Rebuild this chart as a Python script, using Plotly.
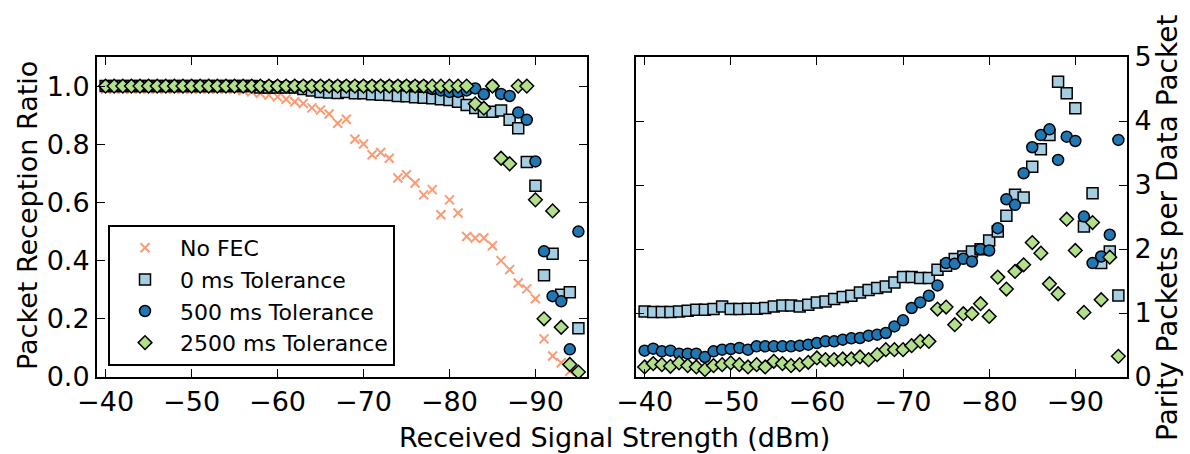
import plotly.graph_objects as go

# ---------------- data ----------------
rssi = [-40, -41, -42, -43, -44, -45, -46, -47, -48, -49,
        -50, -51, -52, -53, -54, -55, -56, -57, -58, -59,
        -60, -61, -62, -63, -64, -65, -66, -67, -68, -69,
        -70, -71, -72, -73, -74, -75, -76, -77, -78, -79,
        -80, -81, -82, -83, -84, -85, -86, -87, -88, -89,
        -90, -91, -92, -93, -94, -95]

# Left panel: packet reception ratio
prr_no_fec = [0.99, 0.99, 0.99, 0.99, 0.99, 0.99, 0.99, 0.99, 0.99, 0.99,
              0.99, 0.99, 0.99, 0.99, 0.99, 0.99, 0.985, 0.98, 0.975, 0.969,
              0.963, 0.955, 0.946, 0.94, 0.925, 0.918, 0.904, 0.872, 0.886, 0.817,
              0.801, 0.764, 0.772, 0.752, 0.684, 0.695, 0.667, 0.626, 0.644, 0.558,
              0.609, 0.564, 0.483, 0.478, 0.478, 0.451, 0.400, 0.369, 0.323, 0.303,
              0.269, 0.131, 0.072, 0.049, 0.02, 0.005]
prr_0ms = [1.0, 1.0, 1.0, 1.0, 1.0, 1.0, 1.0, 1.0, 1.0, 1.0,
           1.0, 1.0, 1.0, 1.0, 1.0, 1.0, 1.0, 1.0, 0.995, 0.995,
           0.995, 0.995, 0.995, 0.99, 0.985, 0.98, 0.978, 0.976, 0.98, 0.975,
           0.975, 0.972, 0.97, 0.969, 0.966, 0.965, 0.962, 0.96, 0.958, 0.955,
           0.952, 0.946, 0.935, 0.925, 0.912, 0.912, 0.916, 0.884, 0.855, 0.739,
           0.657, 0.35, 0.424, 0.283, 0.291, 0.168]
prr_500ms = [1.0, 1.0, 1.0, 1.0, 1.0, 1.0, 1.0, 1.0, 1.0, 1.0,
             1.0, 1.0, 1.0, 1.0, 1.0, 1.0, 1.0, 1.0, 1.0, 1.0,
             1.0, 1.0, 1.0, 1.0, 1.0, 1.0, 1.0, 1.0, 1.0, 1.0,
             1.0, 1.0, 1.0, 1.0, 1.0, 1.0, 1.0, 1.0, 0.99, 0.985,
             0.98, 0.98, 0.985, 0.992, 0.972, 1.0, 0.973, 0.966, 0.909, 0.884,
             0.741, 0.432, 0.278, 0.26, 0.095, 0.50]
prr_2500ms = [1.0, 1.0, 1.0, 1.0, 1.0, 1.0, 1.0, 1.0, 1.0, 1.0,
              1.0, 1.0, 1.0, 1.0, 1.0, 1.0, 1.0, 1.0, 1.0, 1.0,
              1.0, 1.0, 1.0, 1.0, 1.0, 1.0, 1.0, 1.0, 1.0, 1.0,
              1.0, 1.0, 1.0, 1.0, 1.0, 1.0, 1.0, 1.0, 1.0, 1.0,
              1.0, 1.0, 1.0, 0.939, 0.924, 1.0, 0.752, 0.733, 1.0, 1.0,
              0.609, 0.2, 0.571, 0.171, 0.043, 0.017]

# Right panel: parity packets per data packet
parity_0ms = [1.025, 1.015, 1.015, 1.015, 1.025, 1.036, 1.051, 1.051, 1.062, 1.103,
              1.062, 1.062, 1.067, 1.067, 1.078, 1.103, 1.119, 1.119, 1.103, 1.129,
              1.165, 1.181, 1.218, 1.249, 1.27, 1.32, 1.36, 1.39, 1.415, 1.478,
              1.561, 1.561, 1.545, 1.545, 1.675, 1.738, 1.842, 1.883, 1.961, 1.998,
              2.133, 2.273, 2.518, 2.846, 2.804, 3.287, 3.558, 3.781, 4.613, 4.432,
              4.198, 2.351, 2.872, 1.78, 1.961, 1.275]
parity_500ms = [0.412, 0.443, 0.401, 0.412, 0.365, 0.365, 0.365, 0.313, 0.401, 0.427,
                0.438, 0.454, 0.427, 0.479, 0.479, 0.479, 0.479, 0.479, 0.49, 0.505,
                0.531, 0.557, 0.557, 0.583, 0.604, 0.61, 0.646, 0.661, 0.688, 0.791,
                0.885, 1.078, 1.165, 1.27, 1.431, 1.78, 1.769, 1.847, 1.805, 1.998,
                1.977, 2.326, 2.778, 2.69, 3.184, 3.59, 3.781, 3.87, 3.392, 3.755,
                3.688, 2.507, 1.78, 1.883, 2.222, 3.704]
parity_2500ms = [0.157, 0.209, 0.193, 0.167, 0.22, 0.178, 0.157, 0.115, 0.178, 0.193,
                 0.22, 0.193, 0.157, 0.193, 0.157, 0.245, 0.209, 0.178, 0.193, 0.23,
                 0.298, 0.271, 0.271, 0.282, 0.282, 0.313, 0.271, 0.349, 0.427, 0.427,
                 0.427, 0.49, 0.557, 0.557, 1.062, 1.093, 0.817, 0.989, 0.989, 1.145,
                 0.947, 1.561, 1.374, 1.649, 1.753, 2.101, 1.935, 1.457, 1.301, 2.466,
                 1.977, 1.009, 2.413, 1.207, 1.873, 0.323]

series_names = ["No FEC", "0 ms Tolerance", "500 ms Tolerance", "2500 ms Tolerance"]
x_ticks = [-40, -50, -60, -70, -80, -90]
left_y_ticks = [0.0, 0.2, 0.4, 0.6, 0.8, 1.0]
right_y_ticks = [0, 1, 2, 3, 4, 5]

# ---------------- styles ----------------
C_ORANGE = "#fb9a74"
C_LBLUE = "#a6cee3"
C_DBLUE = "#1f78b4"
C_GREEN = "#b2df8a"
EDGE = dict(color="black", width=1.5)

styles = {
    "No FEC": dict(symbol="x-thin", size=9, color=C_ORANGE,
                   line=dict(color=C_ORANGE, width=2)),
    "0 ms Tolerance": dict(symbol="square", size=11, color=C_LBLUE, line=EDGE),
    "500 ms Tolerance": dict(symbol="circle", size=11, color=C_DBLUE, line=EDGE),
    "2500 ms Tolerance": dict(symbol="diamond", size=10.5, color=C_GREEN, line=EDGE),
}

fig = go.Figure()

left_data = [prr_no_fec, prr_0ms, prr_500ms, prr_2500ms]
for name, ys in zip(series_names, left_data):
    fig.add_trace(go.Scatter(x=rssi, y=ys, mode="markers", name=name,
                             legendgroup=name, marker=styles[name],
                             xaxis="x", yaxis="y"))

right_data = [parity_0ms, parity_500ms, parity_2500ms]
for name, ys in zip(series_names[1:], right_data):
    fig.add_trace(go.Scatter(x=rssi, y=ys, mode="markers", name=name,
                             legendgroup=name, showlegend=False,
                             marker=styles[name], xaxis="x2", yaxis="y2"))

W, H = 1190, 454
px_x = lambda p: p / W
px_y = lambda p: (H - p) / H

axis_common = dict(
    ticks="inside", ticklen=8, tickwidth=1, tickcolor="black",
    showline=True, linecolor="black", linewidth=2, mirror="ticks",
    showgrid=False, zeroline=False, automargin=False,
    tickfont=dict(size=27, color="black", family="DejaVu Sans"),
)

title_font = dict(size=27, family="DejaVu Sans", color="black")

fig.update_layout(
    template="none",
    width=W, height=H,
    margin=dict(l=0, r=0, t=0, b=0, pad=0),
    paper_bgcolor="white", plot_bgcolor="white",
    font=dict(family="DejaVu Sans", size=27, color="black"),
    xaxis=dict(domain=[px_x(97), px_x(587)], anchor="y", range=[-39, -96],
               tickvals=x_ticks, **axis_common),
    yaxis=dict(domain=[px_y(377), px_y(57)], anchor="x", range=[0, 1.1],
               tickvals=left_y_ticks, tickformat=".1f", **axis_common),
    xaxis2=dict(domain=[px_x(636), px_x(1127)], anchor="y2", range=[-39, -96],
                tickvals=x_ticks, **axis_common),
    yaxis2=dict(domain=[px_y(377), px_y(57)], anchor="x2", range=[0, 5],
                side="right", tickvals=right_y_ticks, **axis_common),
    legend=dict(x=px_x(108), y=px_y(225), xanchor="left", yanchor="top",
                bgcolor="white", bordercolor="black", borderwidth=2,
                font=dict(size=22, family="DejaVu Sans", color="black"),
                itemwidth=60, tracegroupgap=3, traceorder="normal"),
    showlegend=True,
    annotations=[
        dict(text="Packet Reception Ratio", x=px_x(27), y=px_y(216),
             xref="paper", yref="paper", showarrow=False, textangle=-90,
             xanchor="center", yanchor="middle", font=title_font),
        dict(text="Parity Packets per Data Packet", x=px_x(1167), y=px_y(228),
             xref="paper", yref="paper", showarrow=False, textangle=-90,
             xanchor="center", yanchor="middle",
             font=dict(size=28, family="DejaVu Sans", color="black")),
        dict(text="Received Signal Strength (dBm)", x=px_x(614), y=px_y(437),
             xref="paper", yref="paper", showarrow=False,
             xanchor="center", yanchor="middle", font=title_font),
    ],
)

fig.write_html("out.html", config={"displayModeBar": False},
               post_script="document.body.style.margin='0px';")
